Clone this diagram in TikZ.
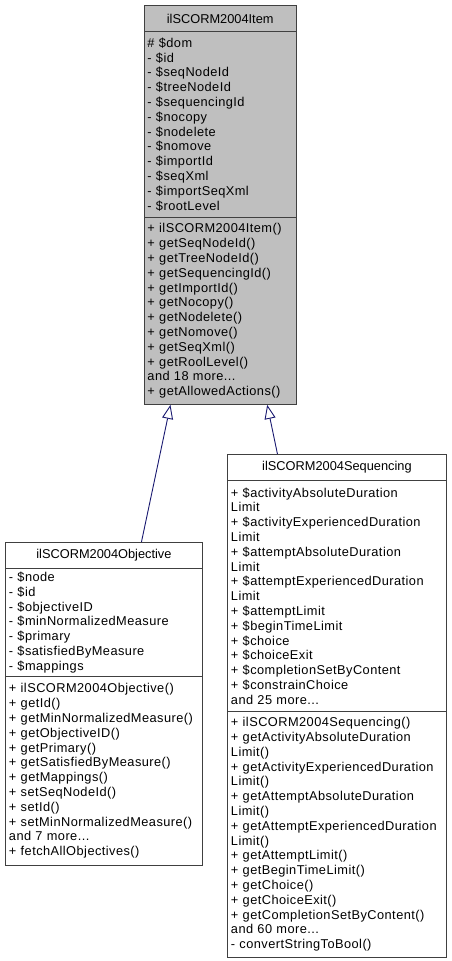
\documentclass[tikz,border=0pt]{standalone}
\usepackage{fontspec}
\setmainfont{Liberation Sans}
\newfontfamily\bodyfont[LetterSpace=3.5]{Liberation Sans}
\usepackage{xcolor}
\usepackage{tikz}
\usetikzlibrary{arrows.meta}

\definecolor{grey75}{HTML}{BFBFBF}
\definecolor{boxline}{HTML}{404040}
\definecolor{edgeblue}{HTML}{191970}

\begin{document}
\begin{tikzpicture}[x=1pt,y=-1pt,
  box/.style={draw=boxline,line width=0.9pt,inner xsep=3.5pt,inner ysep=0pt,anchor=north west,
    font=\bodyfont\fontsize{12.8}{14.8}\selectfont,align=left},
  title/.style={align=center,font=\fontsize{12.8}{14.8}\selectfont},
  current/.style={box,fill=grey75,text width=145.5pt},
  objbox/.style={box,fill=white,text width=190pt},
  seqbox/.style={box,fill=white,text width=212pt},
  inherit/.style={draw=edgeblue,line width=0.9pt,
    -{Triangle[open,length=14pt,width=11pt,fill=white]}}]
\useasboundingbox (0,0) rectangle (451,961);

% Base class
\node[current,title,minimum height=26pt] (itemT) at (143.5,5) {ilSCORM2004Item};
\node[current,minimum height=186pt] (itemA) at (143.5,31)
  {\# \$dom\\- \$id\\- \$seqNodeId\\- \$treeNodeId\\- \$sequencingId\\- \$nocopy\\- \$nodelete\\- \$nomove\\- \$importId\\- \$seqXml\\- \$importSeqXml\\- \$rootLevel};
\node[current,minimum height=187pt] (itemM) at (143.5,217)
  {+ ilSCORM2004Item()\\+ getSeqNodeId()\\+ getTreeNodeId()\\+ getSequencingId()\\+ getImportId()\\+ getNocopy()\\+ getNodelete()\\+ getNomove()\\+ getSeqXml()\\+ getRoolLevel()\\and 18 more...\\+ getAllowedActions()};

% Objective
\node[objbox,title,minimum height=26pt] (objT) at (5,542) {ilSCORM2004Objective};
\node[objbox,minimum height=108pt] (objA) at (5,568)
  {- \$node\\- \$id\\- \$objectiveID\\- \$minNormalizedMeasure\\- \$primary\\- \$satisfiedByMeasure\\- \$mappings};
\node[objbox,minimum height=189pt] (objM) at (5,676)
  {+ ilSCORM2004Objective()\\+ getId()\\+ getMinNormalizedMeasure()\\+ getObjectiveID()\\+ getPrimary()\\+ getSatisfiedByMeasure()\\+ getMappings()\\+ setSeqNodeId()\\+ setId()\\+ setMinNormalizedMeasure()\\and 7 more...\\+ fetchAllObjectives()};

% Sequencing
\node[seqbox,title,minimum height=26pt] (seqT) at (227,454) {ilSCORM2004Sequencing};
\node[seqbox,minimum height=231pt] (seqA) at (227,480)
  {+ \$activityAbsoluteDuration\\Limit\\+ \$activityExperiencedDuration\\Limit\\+ \$attemptAbsoluteDuration\\Limit\\+ \$attemptExperiencedDuration\\Limit\\+ \$attemptLimit\\+ \$beginTimeLimit\\+ \$choice\\+ \$choiceExit\\+ \$completionSetByContent\\+ \$constrainChoice\\and 25 more...};
\node[seqbox,minimum height=246pt] (seqM) at (227,711)
  {+ ilSCORM2004Sequencing()\\+ getActivityAbsoluteDuration\\Limit()\\+ getActivityExperiencedDuration\\Limit()\\+ getAttemptAbsoluteDuration\\Limit()\\+ getAttemptExperiencedDuration\\Limit()\\+ getAttemptLimit()\\+ getBeginTimeLimit()\\+ getChoice()\\+ getChoiceExit()\\+ getCompletionSetByContent()\\and 60 more...\\- convertStringToBool()};

% Inheritance
\draw[inherit] ([xshift=37.5pt]objT.north) -- ([xshift=-49.75pt]itemM.south);
\draw[inherit] ([xshift=-59.5pt]seqT.north) -- ([xshift=47pt]itemM.south);
\end{tikzpicture}
\end{document}
